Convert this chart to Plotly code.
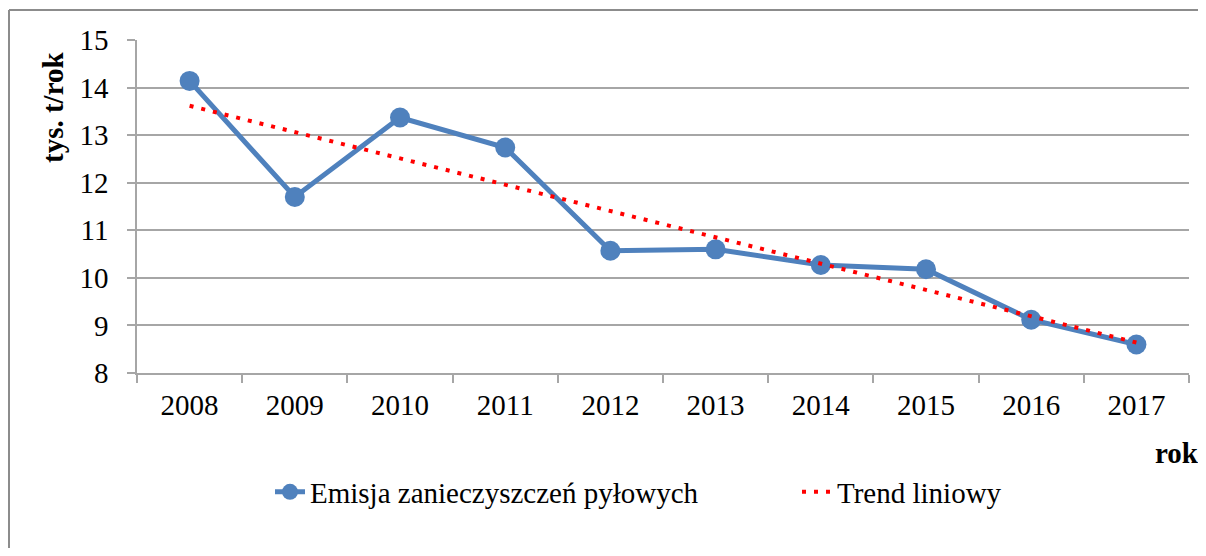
import numpy as np
import plotly.graph_objects as go

years = ["2008", "2009", "2010", "2011", "2012", "2013", "2014", "2015", "2016", "2017"]
emisja = [14.14, 11.70, 13.37, 12.74, 10.57, 10.60, 10.27, 10.18, 9.12, 8.60]
y_ticks = [8, 9, 10, 11, 12, 13, 14, 15]

series_name = "Emisja zanieczyszczeń pyłowych"
trend_name = "Trend liniowy"

idx = np.arange(len(years))
slope, intercept = np.polyfit(idx, emisja, 1)
trend = (slope * idx + intercept).tolist()

FONT = "Liberation Serif"
GRID = "#a6a6a6"
FS = 29

# page offset from default body margin
OFF = 8
W, H = 1206 - 2 * OFF, 556 - 2 * OFF
L, R, T, B = 137 - OFF, 17 - OFF, 40 - OFF, 183 - OFF
pw, ph = W - L - R, H - T - B

def px(x):
    return (x - OFF - L) / pw

def py(y):
    return (H - B - (y - OFF)) / ph

fig = go.Figure()
fig.add_trace(go.Scatter(
    x=years, y=emisja, name=series_name, mode="lines+markers",
    line=dict(color="#4f81bd", width=5),
    marker=dict(color="#4f81bd", size=20),
    legend="legend",
))
fig.add_trace(go.Scatter(
    x=years, y=trend, name=trend_name, mode="lines",
    line=dict(color="#ff0000", width=4, dash="4px,8px"),
    legend="legend2",
))

legend_common = dict(
    orientation="h", yanchor="middle", xanchor="left",
    font=dict(family=FONT, size=FS, color="black"),
    bgcolor="rgba(0,0,0,0)",
)

fig.update_layout(
    width=W, height=H,
    margin=dict(l=L, r=R, t=T, b=B),
    paper_bgcolor="white", plot_bgcolor="white",
    font=dict(family=FONT, size=FS, color="black"),
    showlegend=True,
    legend=dict(x=px(270), y=py(492), **legend_common),
    legend2=dict(x=px(797), y=py(492), **legend_common),
    xaxis=dict(
        type="category", range=[-0.5, len(years) - 0.5], autorange=False,
        showgrid=False, showline=True, linecolor=GRID, linewidth=1.5,
        ticks="outside", tickson="boundaries", ticklen=8, tickcolor=GRID, tickwidth=1.5,
        tickfont=dict(family=FONT, size=FS), zeroline=False, ticklabelstandoff=5,
    ),
    yaxis=dict(
        range=[8, 15], tickvals=y_ticks, showgrid=True, gridcolor=GRID, gridwidth=1.5,
        showline=True, linecolor=GRID, linewidth=1.5,
        ticks="outside", ticklen=8, tickcolor=GRID, tickwidth=1.5,
        tickfont=dict(family=FONT, size=FS), zeroline=False, ticklabelstandoff=13,
    ),
    annotations=[
        dict(text="<b>tys. t/rok</b>", textangle=-90, x=px(53), y=py(107),
             xref="paper", yref="paper", showarrow=False,
             font=dict(family=FONT, size=FS, color="black"),
             xanchor="center", yanchor="middle"),
        dict(text="<b>rok</b>", x=px(1201), y=py(453),
             xref="paper", yref="paper", showarrow=False,
             font=dict(family=FONT, size=FS, color="black"),
             xanchor="right", yanchor="middle"),
    ],
    shapes=[
        dict(type="line", xref="paper", yref="paper", x0=px(9), x1=px(1230),
             y0=py(10), y1=py(10), line=dict(color="#8c8c8c", width=2)),
        dict(type="line", xref="paper", yref="paper", x0=px(9), x1=px(9),
             y0=py(10), y1=py(580), line=dict(color="#8c8c8c", width=2)),
    ],
)

fig.write_html("out.html")
